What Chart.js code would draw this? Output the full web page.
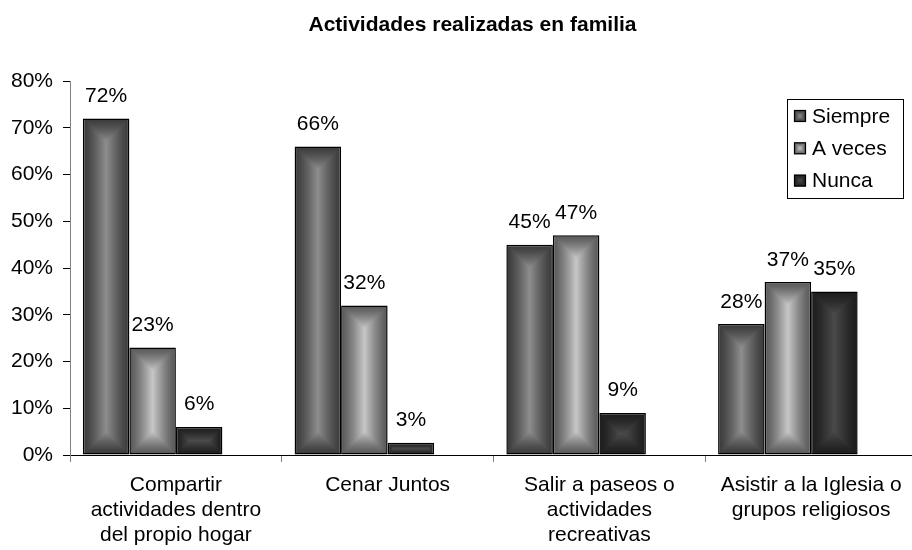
<!DOCTYPE html>
<html><head><meta charset="utf-8">
<script src="https://cdn.jsdelivr.net/npm/chart.js@4/dist/chart.umd.min.js"></script>
<style>html,body{margin:0;padding:0;overflow:hidden;background:#fff}
#wrap{position:relative;width:930px;height:550px}</style></head>
<body><div id="wrap"><canvas id="c"></canvas></div>
<script>
const categories = [
  ['Compartir', 'actividades dentro', 'del propio hogar'],
  ['Cenar Juntos'],
  ['Salir a paseos o', 'actividades', 'recreativas'],
  ['Asistir a la Iglesia o', 'grupos religiosos']
];
const seriesNames = ['Siempre', 'A veces', 'Nunca'];
const siempre = [72, 66, 45, 28];
const aVeces = [23, 32, 47, 37];
const nunca = [6, 2.6, 9, 35];
const yTicks = [0, 10, 20, 30, 40, 50, 60, 70, 80];
const titleText = 'Actividades realizadas en familia';

const FONT = "'Liberation Sans', Arial, Helvetica, sans-serif";
const FS = 21;
const shades = [
  {edge: [58, 58, 58], center: [142, 142, 142]},
  {edge: [88, 88, 88], center: [200, 200, 200]},
  {edge: [28, 28, 28], center: [74, 74, 74]}
];
const GAMMA = 1.3;

function makeFill(ctx, left, top, w, h, shade) {
  const W = Math.max(1, Math.ceil(w)), H = Math.max(1, Math.ceil(h));
  const cv = document.createElement('canvas');
  cv.width = W; cv.height = H;
  const c = cv.getContext('2d');
  const img = c.createImageData(W, H);
  const r = Math.max(0.5, Math.min(w, h) / 2);
  for (let y = 0; y < H; y++) {
    for (let x = 0; x < W; x++) {
      const d = Math.min(x + 0.5, w - x - 0.5, y + 0.5, h - y - 0.5);
      let t = Math.max(0, Math.min(1, d / r));
      t = Math.pow(t, GAMMA);
      const i = (y * W + x) * 4;
      for (let k = 0; k < 3; k++) img.data[i + k] = Math.round(shade.edge[k] + (shade.center[k] - shade.edge[k]) * t);
      img.data[i + 3] = 255;
    }
  }
  c.putImageData(img, 0, 0);
  const pat = ctx.createPattern(cv, 'no-repeat');
  pat.setTransform(new DOMMatrix([1, 0, 0, 1, left, top]));
  return pat;
}

const gradientPlugin = {
  id: 'rectGrad',
  beforeDatasetsDraw(chart) {
    const ctx = chart.ctx;
    chart.data.datasets.forEach((ds, di) => {
      const shade = shades[di];
      if (!shade) return;
      const meta = chart.getDatasetMeta(di);
      meta.data.forEach(el => {
        const p = el.getProps(['x', 'y', 'base', 'width'], true);
        if (p.y == null || isNaN(p.y)) return;
        const left = p.x - p.width / 2, top = Math.min(p.y, p.base), h = Math.abs(p.base - p.y);
        el.options = Object.assign({}, el.options, {
          backgroundColor: makeFill(ctx, left, top, p.width, h, shade),
          borderColor: '#000'
        });
      });
    });
  }
};

const labelPlugin = {
  id: 'valueLabels',
  afterDatasetsDraw(chart) {
    const ctx = chart.ctx;
    ctx.save();
    ctx.font = FS + 'px ' + FONT;
    ctx.fillStyle = '#000';
    ctx.textAlign = 'center';
    ctx.textBaseline = 'alphabetic';
    chart.data.datasets.forEach((ds, di) => {
      if (!shades[di]) return;
      const meta = chart.getDatasetMeta(di);
      meta.data.forEach((el, i) => {
        const v = ds.data[i];
        if (v == null) return;
        ctx.fillText(Math.round(v) + '%', el.x, el.y - 16.5);
      });
    });
    ctx.restore();
  }
};

const legendPlugin = {
  id: 'boxLegend',
  afterDraw(chart) {
    const ctx = chart.ctx;
    const bx = 787.5, by = 99.5, bw = 116, bh = 99;
    ctx.save();
    ctx.fillStyle = '#fff';
    ctx.fillRect(bx, by, bw, bh);
    ctx.strokeStyle = '#000';
    ctx.lineWidth = 1;
    ctx.strokeRect(bx, by, bw, bh);
    ctx.font = FS + 'px ' + FONT;
    ctx.textAlign = 'left';
    ctx.textBaseline = 'middle';
    seriesNames.forEach((name, i) => {
      const cy = 116 + i * 32.3;
      const sx = 794, sy = cy - 6, s = 12;
      ctx.fillStyle = makeFill(ctx, sx, sy, s, s, shades[i]);
      ctx.fillRect(sx, sy, s, s);
      ctx.strokeStyle = '#000';
      ctx.lineWidth = 1.2;
      ctx.strokeRect(sx + 0.5, sy + 0.5, s - 1, s - 1);
      ctx.fillStyle = '#000';
      ctx.fillText(name, 812, cy + 1);
    });
    ctx.restore();
  }
};

const fallback = ['#3a3a3a', '#888888', '#222222', '#ffffff'];

new Chart(document.getElementById('c'), {
  type: 'bar',
  data: {
    labels: categories,
    datasets: [
      {label: seriesNames[0], data: siempre, borderColor: '#000', backgroundColor: fallback[0]},
      {label: seriesNames[1], data: aVeces, borderColor: '#000', backgroundColor: fallback[1]},
      {label: seriesNames[2], data: nunca, borderColor: '#000', backgroundColor: fallback[2]},
      {label: '', data: [null, null, null, null], borderColor: '#000', backgroundColor: fallback[3]}
    ]
  },
  options: {
    responsive: true,
    maintainAspectRatio: false,
    animation: false,
    events: [],
    layout: {padding: {left: 28, right: 13, top: 0, bottom: 0}},
    datasets: {
      bar: {
        categoryPercentage: 0.8786,
        barPercentage: 1,
        borderWidth: 1.5,
        borderSkipped: false
      }
    },
    plugins: {
      colors: {enabled: false},
      legend: {display: false},
      tooltip: {enabled: false},
      title: {
        display: true,
        text: titleText,
        color: '#000',
        font: {size: FS, weight: 'bold', family: FONT, lineHeight: 1.2},
        padding: {top: 12.4, bottom: 43.4}
      }
    },
    scales: {
      x: {
        grid: {drawOnChartArea: false, drawTicks: true, tickLength: 7, color: '#808080', offset: true},
        border: {color: '#000', width: 1},
        ticks: {color: '#000', font: {size: FS, family: FONT, lineHeight: 1.19}, padding: 11, maxRotation: 0, minRotation: 0, autoSkip: false},
        afterFit: (s) => { s.height = 95; }
      },
      y: {
        min: 0, max: 80,
        grid: {drawOnChartArea: false, tickLength: 7, color: '#000'},
        border: {color: '#808080', width: 1},
        ticks: {color: '#000', font: {size: FS, family: FONT}, padding: 10, callback: (v) => v + '%'},
        afterBuildTicks: (s) => { s.ticks = yTicks.map(v => ({value: v})); },
        afterFit: (s) => {
          s.width = 42;
          s._computeLabelArea = function () { return undefined; };
        }
      }
    }
  },
  plugins: [gradientPlugin, labelPlugin, legendPlugin]
});
</script>
</body></html>
